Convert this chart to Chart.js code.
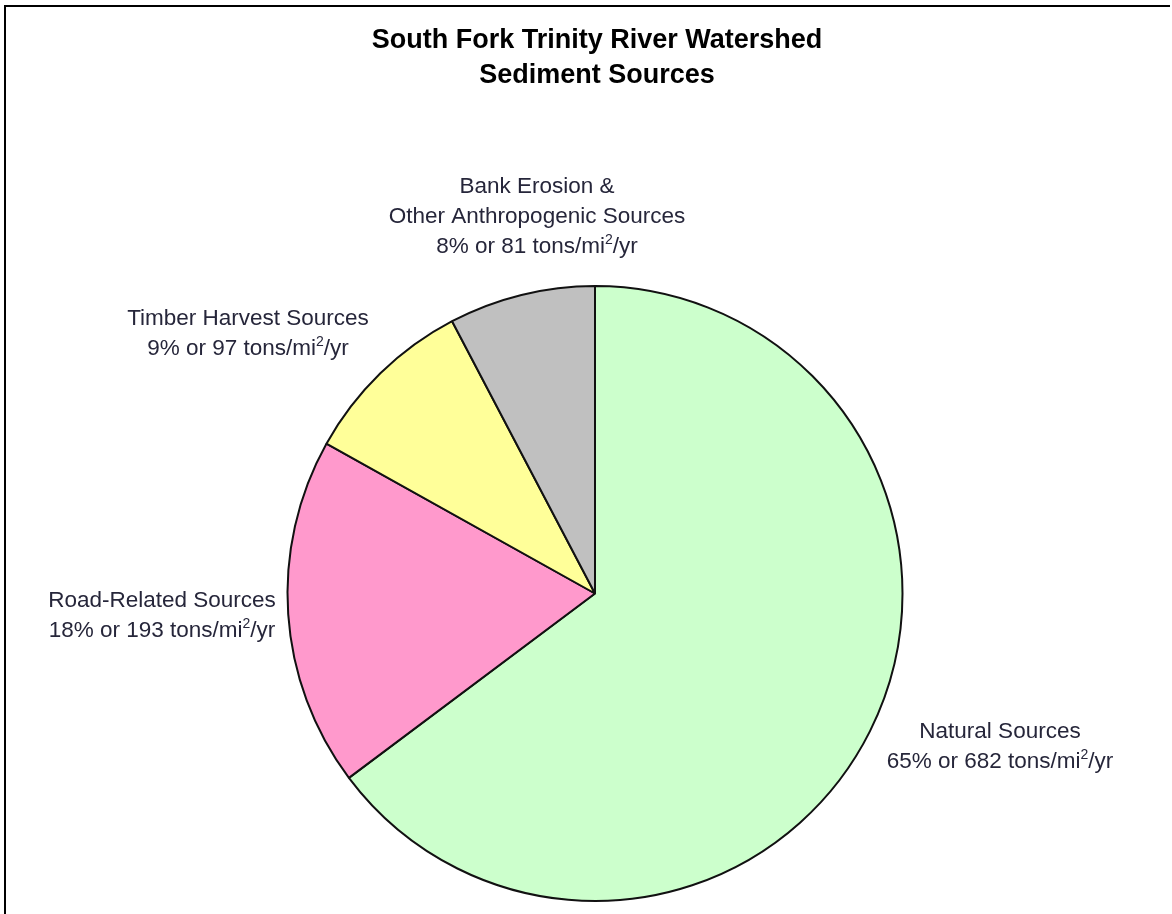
<!DOCTYPE html>
<html>
<head>
<meta charset="utf-8">
<script src="https://cdn.jsdelivr.net/npm/chart.js@4.4.1/dist/chart.umd.min.js"></script>
<style>
html,body{margin:0;padding:0;background:#fff;overflow:hidden;}
#wrap{position:absolute;left:0;top:0;width:1172px;height:914px;}
#frame{position:absolute;left:4px;top:5px;width:1166px;height:909px;border-left:2px solid #000;border-top:2px solid #000;box-sizing:border-box;pointer-events:none;}
canvas{position:absolute;left:0;top:0;}
</style>
</head>
<body>
<div id="wrap">
<canvas id="c" width="1172" height="914"></canvas>
<div id="frame"></div>
</div>
<script>
const categories = ["Natural Sources", "Road-Related Sources", "Timber Harvest Sources", "Bank Erosion &\nOther Anthropogenic Sources"];
const values = [682, 193, 97, 81];
const colors = ["#CCFFCC", "#FF99CC", "#FFFF99", "#C0C0C0"];
const titleLines = ["South Fork Trinity River Watershed", "Sediment Sources"];
const unitText = " tons/mi";
const unitSup = "2";
const unitTail = "/yr";

const total = values.reduce((a, b) => a + b, 0);
const percents = values.map(v => Math.round(v / total * 100));

// label anchor (center x, first-line baseline y) per slice
const labelAnchors = [
  {x: 1000, y: 738},
  {x: 162, y: 607},
  {x: 248, y: 325},
  {x: 537, y: 193}
];

const labelPlugin = {
  id: 'labels',
  afterDraw(chart) {
    const ctx = chart.ctx;
    ctx.save();
    // title
    ctx.fillStyle = '#000';
    ctx.font = 'bold 27px "Liberation Sans", Arial, sans-serif';
    ctx.textAlign = 'center';
    ctx.textBaseline = 'alphabetic';
    ctx.fillText(titleLines[0], 597, 48);
    ctx.fillText(titleLines[1], 597, 83);

    const mainFont = '22.5px "Liberation Sans", Arial, sans-serif';
    const supFont = '14px "Liberation Sans", Arial, sans-serif';
    const lh = 30;
    categories.forEach((cat, i) => {
      const a = labelAnchors[i];
      const lines = cat.split('\n');
      ctx.fillStyle = '#26263a';
      ctx.font = mainFont;
      ctx.textAlign = 'center';
      ctx.textBaseline = 'alphabetic';
      lines.forEach((ln, k) => ctx.fillText(ln, a.x, a.y + k * lh));
      const y = a.y + lines.length * lh;
      const p1 = percents[i] + '% or ' + values[i] + unitText;
      ctx.font = mainFont;
      const w1 = ctx.measureText(p1).width;
      const w3 = ctx.measureText(unitTail).width;
      ctx.font = supFont;
      const w2 = ctx.measureText(unitSup).width;
      const totalW = w1 + w2 + w3;
      let x = a.x - totalW / 2;
      ctx.textAlign = 'left';
      ctx.font = mainFont;
      ctx.fillText(p1, x, y);
      x += w1;
      ctx.font = supFont;
      ctx.fillText(unitSup, x, y - 9);
      x += w2;
      ctx.font = mainFont;
      ctx.fillText(unitTail, x, y);
    });
    ctx.restore();
  }
};

new Chart(document.getElementById('c'), {
  type: 'pie',
  data: {
    labels: categories,
    datasets: [{
      data: values,
      backgroundColor: colors,
      borderColor: '#111',
      borderWidth: 2,
      hoverOffset: 0
    }]
  },
  options: {
    responsive: false,
    animation: false,
    devicePixelRatio: 1,
    layout: {padding: {top: 285, bottom: 12, left: 18, right: 0}},
    plugins: {
      legend: {display: false},
      title: {display: false},
      tooltip: {enabled: false}
    }
  },
  plugins: [labelPlugin]
});
</script>
</body>
</html>
